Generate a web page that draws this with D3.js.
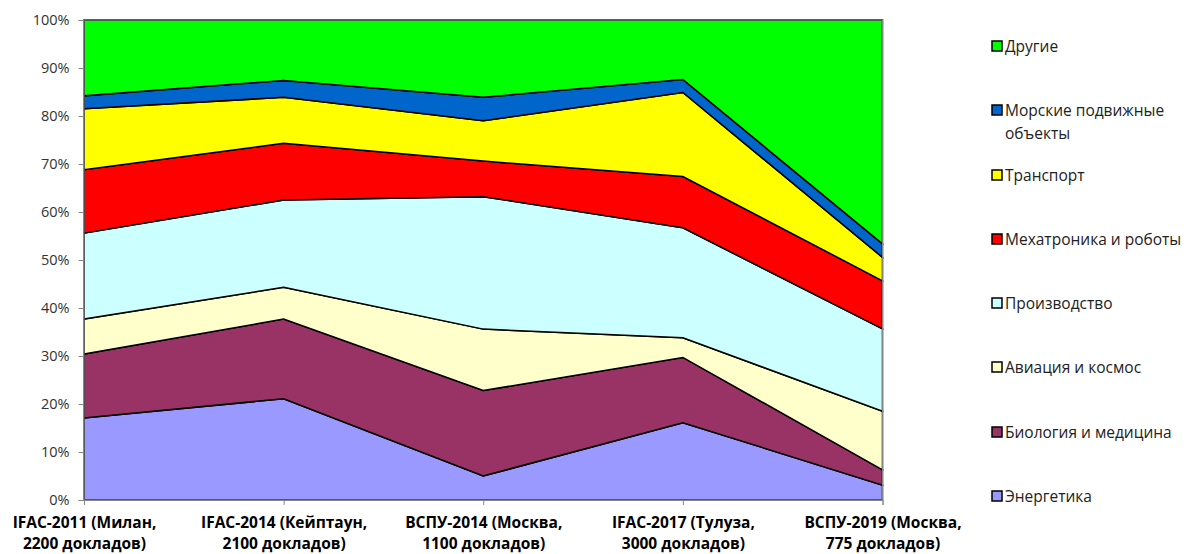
<!DOCTYPE html>
<html><head><meta charset="utf-8">
<script src="https://cdn.jsdelivr.net/npm/d3@7"></script>
<style>
body{margin:0;background:#fff;}
svg{display:block;font-family:"Open Sans","Noto Sans",sans-serif;}
</style></head>
<body><svg id="c" width="1187" height="554"></svg>
<script>
const categories = [
  ["IFAC-2011 (Милан,", "2200 докладов)"],
  ["IFAC-2014 (Кейптаун,", "2100 докладов)"],
  ["ВСПУ-2014 (Москва,", "1100 докладов)"],
  ["IFAC-2017 (Тулуза,", "3000 докладов)"],
  ["ВСПУ-2019 (Москва,", "775 докладов)"]
];
const seriesNames = ["Энергетика","Биология и медицина","Авиация и космос","Производство","Мехатроника и роботы","Транспорт","Морские подвижные объекты","Другие"];
const energy    = [17.1, 21.1,  5.0, 16.1,  3.1];
const biology   = [13.3, 16.6, 17.8, 13.6,  3.2];
const aviation  = [ 7.3,  6.6, 12.8,  4.1, 12.2];
const production= [17.9, 18.2, 27.6, 22.9, 17.2];
const mechatron = [13.2, 11.8,  7.4, 10.7, 10.0];
const transport = [12.7,  9.6,  8.4, 17.5,  4.9];
const marine    = [ 2.7,  3.5,  4.9,  2.7,  2.8];
const other     = [15.8, 12.6, 16.1, 12.4, 46.7];
const yTicks = [0,0.1,0.2,0.3,0.4,0.5,0.6,0.7,0.8,0.9,1.0];
const colors = ["#9999FF","#993366","#FFFFCC","#CCFFFF","#FF0000","#FFFF00","#0066CC","#00FF00"];

const seriesValues = [energy,biology,aviation,production,mechatron,transport,marine,other];
const rows = categories.map((c,i)=>{const r={idx:i};seriesNames.forEach((s,j)=>r[s]=seriesValues[j][i]);return r;});

const svg = d3.select("#c");
const L=83.5, R=882.5, T=20, B=500;
const x = d3.scalePoint().domain(d3.range(categories.length)).range([L+0.5,R]);
const y = d3.scaleLinear().domain([0,1]).range([B,T]);

const stack = d3.stack().keys(seriesNames).offset(d3.stackOffsetExpand);
const layers = stack(rows);
const area = d3.area().x(d=>x(d.data.idx)).y0(d=>y(d[0])).y1(d=>y(d[1]));

svg.append("g").selectAll("path").data(layers).join("path")
  .attr("d",area).attr("fill",(d,i)=>colors[i])
  .attr("stroke","#000").attr("stroke-width",1.5).attr("stroke-linejoin","miter");

// plot border
svg.append("rect").attr("x",L).attr("y",T).attr("width",R-L).attr("height",B-T)
  .attr("fill","none").attr("stroke","#868686").attr("stroke-width",1);

// y axis
const yAxis = d3.axisLeft(y).tickValues(yTicks).tickFormat(d3.format(".0%")).tickSize(5).tickPadding(9);
const gy = svg.append("g").attr("transform",`translate(${L},0)`).call(yAxis);
gy.select(".domain").attr("stroke","#868686");
gy.selectAll(".tick line").attr("stroke","#868686");
gy.selectAll("text").attr("font-size",14.5).attr("fill","#333").attr("font-family","'Open Sans',sans-serif");

// x axis
const xAxis = d3.axisBottom(x).tickSize(5).tickFormat("");
const gx = svg.append("g").attr("transform",`translate(0,${B})`).call(xAxis);
gx.select(".domain").attr("stroke","#868686");
gx.selectAll(".tick line").attr("stroke","#868686");
gx.selectAll(".tick").each(function(d){
  const t=d3.select(this).append("text").attr("fill","#000").attr("font-size",15.5).attr("font-weight","bold")
   .attr("text-anchor","middle").attr("font-family","'Open Sans',sans-serif");
  t.append("tspan").attr("x",0).attr("y",28).text(categories[d][0]);
  t.append("tspan").attr("x",0).attr("y",49).text(categories[d][1]);
});

// legend
const legendOrder = d3.range(seriesNames.length).reverse();
const legendY = [46,110,175,239,303,367,432,496];
const lg = svg.append("g");
legendOrder.forEach((si,k)=>{
  const yy=legendY[k];
  lg.append("rect").attr("x",992).attr("y",yy-5).attr("width",10).attr("height",10)
    .attr("fill",colors[si]).attr("stroke","#000").attr("stroke-width",1.5);
  const name=seriesNames[si];
  const t=lg.append("text").attr("x",1005).attr("y",yy+5.5).attr("font-size",15.5).attr("fill","#222");
  if(name==="Морские подвижные объекты"){
    t.append("tspan").attr("x",1005).attr("y",yy+5.5).text("Морские подвижные");
    t.append("tspan").attr("x",1005).attr("y",yy+28.5).text("объекты");
  } else t.text(name);
});
</script></body></html>
